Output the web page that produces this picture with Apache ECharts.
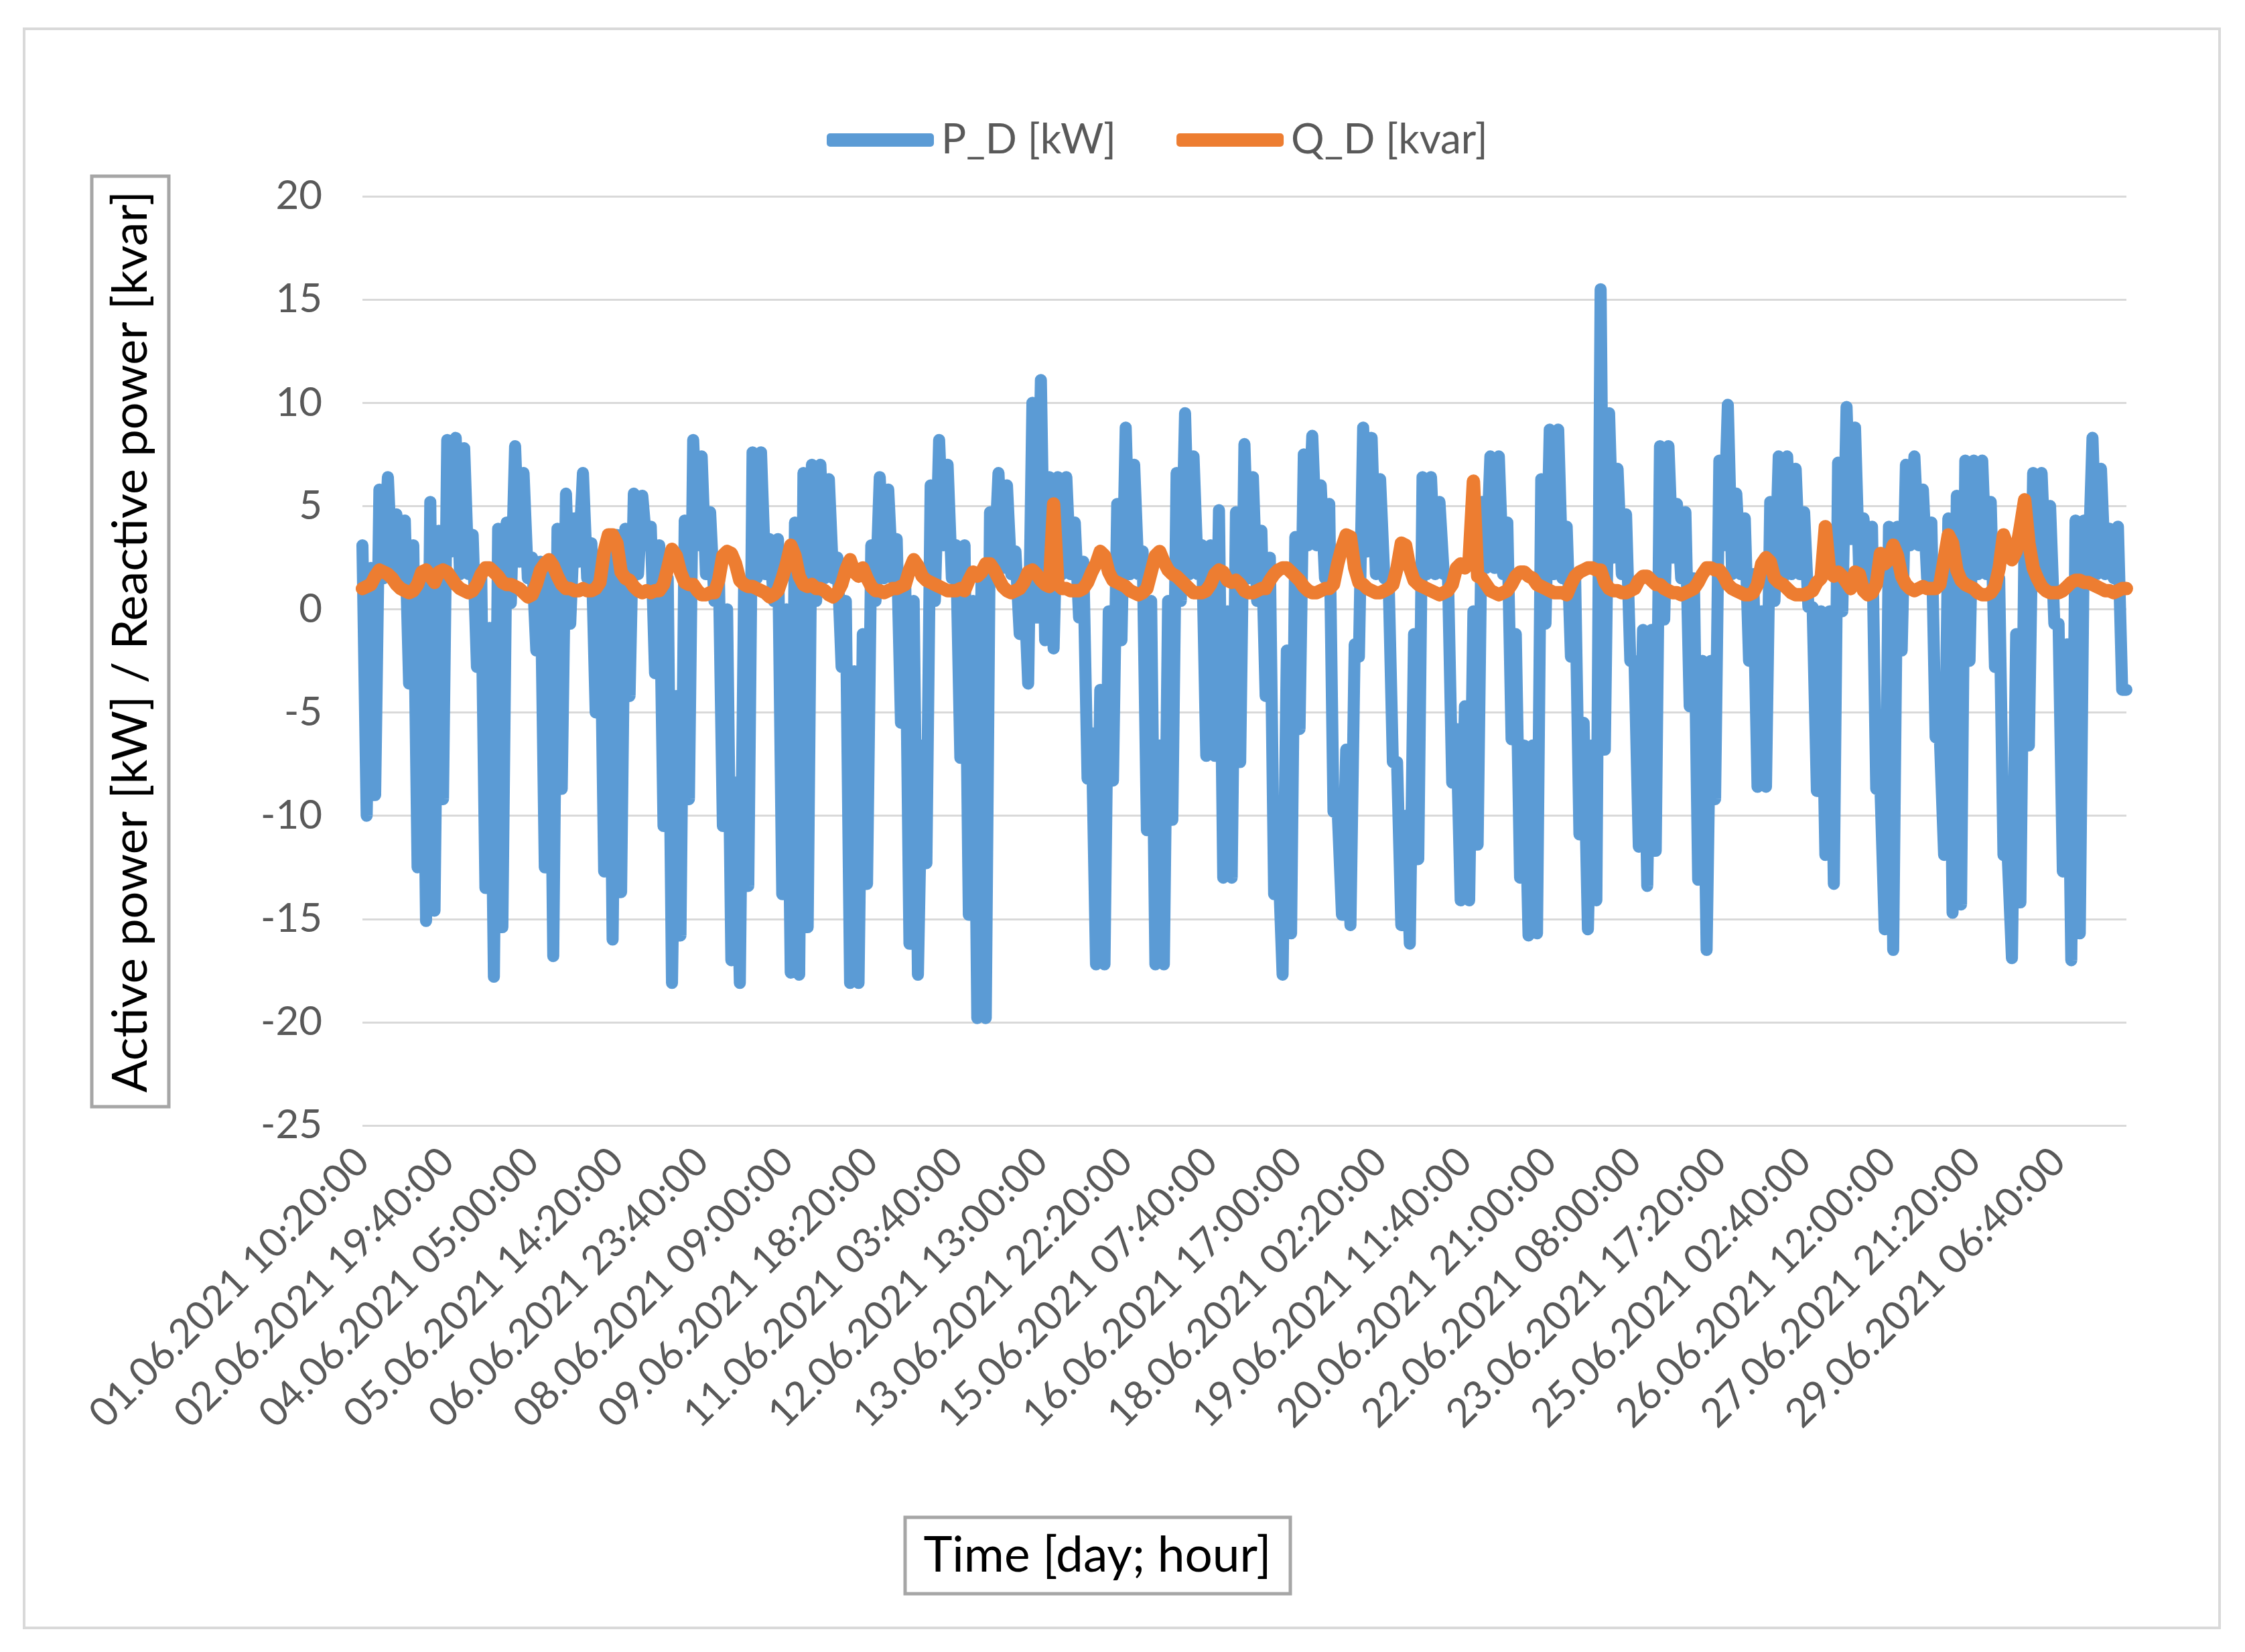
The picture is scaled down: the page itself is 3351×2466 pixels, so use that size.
<!DOCTYPE html>
<html lang="en">
<head>
    <meta charset="UTF-8">
    <title>P_D / Q_D</title>
    <script src="https://cdnjs.cloudflare.com/ajax/libs/echarts/6.0.0/echarts.min.js"></script>
    <style>
        html, body { margin: 0; padding: 0; background: #fff; }
        #chart { width: 3351px; height: 2466px; }
    </style>
</head>
<body>
    <div id="chart"></div>

    <script>
        const startTime = Date.UTC(2021, 5, 1, 10, 20);
        const stepMinutes = 100;
        // records missing between 20.06 21:00 and 22.06 08:00 (labels jump 2100 min there)
        const gapAtIndex = 292;
        const gapMinutes = 100;
        const seriesNames = ['P_D [kW]', 'Q_D [kvar]'];
        const yTicks = { min: -25, max: 20, step: 5 };

        // active power P_D [kW]
        const pValues = [
            3.1, -10, 2, -9, 5.8, 1.5, 6.4, 1.7, 4.6, 1.5,
            4.3, -3.6, 3.1, -12.5, 1.5, -15.1, 5.2, -14.6, 3.8, -9.2,
            8.2, 2.8, 8.3, 1.7, 7.8, 1.7, 3.6, -2.8, 1.9, -13.5,
            -0.9, -17.8, 3.9, -15.4, 4.2, 0.3, 7.9, 2.3, 6.6, 1.5,
            2.5, -2, 2.3, -12.5, 2.3, -16.8, 3.9, -8.7, 5.6, -0.7,
            4.4, 2.3, 6.6, 1.5, 3.2, -5, 2, -12.7, 3.6, -16,
            3.6, -13.7, 3.9, -4.2, 5.6, 1.7, 5.5, 3.1, 4, -3.1,
            3.1, -10.5, 1.5, -18.1, -4.2, -15.8, 4.3, -9.2, 8.2, 3.1,
            7.4, 1.7, 4.7, 0.4, 2.5, -10.5, 0, -17, -8.4, -18.1,
            1, -13.4, 7.6, 1.5, 7.6, 1.7, 3.4, 0.4, 3.4, -13.8,
            0, -17.6, 4.2, -17.7, 6.6, -15.4, 7, 0.4, 7, 1.5,
            6.3, 1.5, 2.5, -2.8, 0.4, -18.1, -3, -18.1, -1.2, -13.3,
            3.1, 0.4, 6.4, 1.5, 5.8, 1.5, 3.4, -5.5, 1.5, -16.2,
            0.4, -17.7, -6.6, -12.3, 6, 0.4, 8.2, 3.1, 7, 1.5,
            3.1, -7.2, 3.1, -14.8, 0.4, -19.8, 1.5, -19.8, 4.7, 2,
            6.6, 2, 6, 1.7, 2.8, -1.2, 1.5, -3.6, 10, -0.4,
            11.1, -1.5, 6.4, -1.9, 6.4, 1.7, 6.4, 1.7, 4.2, -0.4,
            2.3, -8.2, -6, -17.2, -3.9, -17.2, -0.1, -8.3, 5.1, -1.5,
            8.8, 1.7, 7, 1.7, 2.8, -10.7, 0.4, -17.2, -6.6, -17.2,
            0.4, -10.2, 6.6, 0.4, 9.5, 1.7, 7.4, 1.7, 3.1, -7.1,
            3.1, -7.1, 4.8, -13, -0.1, -13, 4.7, -7.4, 8, 1.5,
            6.4, 0.4, 3.8, -4.2, 2.5, -13.8, -12, -17.7, -2, -15.7,
            3.5, -5.8, 7.5, 3.1, 8.4, 3.1, 6, 1.5, 5.1, -9.8,
            -9.8, -14.8, -6.8, -15.3, -1.7, -2.3, 8.8, 2.8, 8.3, 1.7,
            6.3, 1.5, 1.5, -7.4, -7.4, -15.3, -10, -16.2, -1.2, -12.1,
            6.4, 1.7, 6.4, 1.7, 5.2, 1.7, 1.7, -8.4, -5.8, -14.1,
            -4.7, -14.1, -0.1, -11.4, 5.2, 2, 7.4, 2, 7.4, 1.7,
            4.2, -6.3, -1.2, -13, -6.6, -15.8, -6.6, -15.7, 6.3, -0.7,
            8.7, 1.7, 8.7, 1.5, 4, -2.3, 1.5, -10.9, -5.5, -15.5,
            -6.6, -14.1, 15.5, -6.8, 9.5, 2.5, 6.8, 1.7, 4.6, -2.5,
            -2.5, -11.5, -1, -13.4, -1, -11.7, 7.9, -0.5, 7.9, 2.5,
            5.1, 1.5, 4.7, -4.7, 1.5, -13.1, -2.5, -16.5, -2.5, -9.2,
            7.2, 3.1, 9.9, 1.7, 5.6, 1.7, 4.4, -2.5, 1.7, -8.6,
            -0.1, -8.6, 5.2, 0.4, 7.4, 1.5, 7.4, 1.7, 6.8, 1.7,
            4.7, 0.1, 0.1, -8.8, -0.1, -11.9, -0.1, -13.3, 7.1, -0.1,
            9.8, 3.4, 8.8, 1.7, 4.4, 1.5, 4, -8.7, -8.7, -15.5,
            4, -16.5, 4, -2, 7, 3.1, 7.4, 3.1, 5.8, 1.5,
            4.2, -6.2, -6.2, -11.9, 4.4, -14.7, 5.5, -14.3, 7.2, -2.5,
            7.2, 1.7, 7.2, 1.7, 5.2, -2.8, 1.5, -11.9, -11.9, -16.9,
            -1.2, -14.2, 4.2, -6.6, 6.6, 1.5, 6.6, 1.5, 5, -0.7,
            -0.7, -12.7, -1.7, -17, 4.3, -15.7, 4.3, 1.7, 8.3, 1.7,
            6.8, 1.7, 3.9, 1.5, 4, -3.9, -3.9
        ];

        // reactive power Q_D [kvar]
        const qValues = [
            1.0, 1.1, 1.2, 1.6, 1.9, 1.8, 1.7, 1.5, 1.2, 1.0,
            0.9, 0.8, 0.9, 1.2, 1.8, 1.9, 1.6, 1.3, 1.8, 1.9,
            1.8, 1.5, 1.2, 1.0, 0.9, 0.8, 0.9, 1.2, 1.7, 2.0,
            2.0, 1.8, 1.6, 1.3, 1.2, 1.2, 1.1, 1.0, 0.8, 0.6,
            0.7, 1.2, 1.9, 2.2, 2.4, 2.1, 1.6, 1.2, 1.0, 1.0,
            0.9, 0.9, 1.0, 0.9, 0.9, 1.0, 1.3, 2.8, 3.6, 3.6,
            3.2, 1.8, 1.5, 1.4, 1.1, 0.9, 0.8, 0.9, 0.8, 0.9,
            0.9, 1.2, 2.0, 2.9, 2.6, 1.8, 1.3, 1.2, 1.2, 0.9,
            0.7, 0.7, 0.8, 0.8, 1.4, 2.6, 2.8, 2.7, 2.2, 1.4,
            1.2, 1.1, 1.1, 1.0, 0.9, 0.8, 0.6, 0.7, 0.9, 1.5,
            2.2, 3.1, 2.6, 1.6, 1.2, 1.1, 1.2, 1.0, 1.0, 0.9,
            0.7, 0.6, 0.8, 1.2, 1.9, 2.4, 1.8, 1.6, 2.0, 1.5,
            1.1, 0.9, 0.9, 0.8, 0.9, 1.0, 1.0, 1.1, 1.2, 1.9,
            2.4, 2.1, 1.6, 1.4, 1.3, 1.2, 1.1, 1.0, 0.9, 0.9,
            0.9, 1.0, 0.9, 1.4, 1.8, 1.6, 1.8, 2.2, 2.2, 1.9,
            1.5, 1.1, 0.9, 0.8, 0.9, 1.0, 1.3, 1.8, 1.9, 1.7,
            1.4, 1.2, 1.1, 5.1, 1.2, 1.0, 1.0, 0.9, 0.9, 0.9,
            1.0, 1.3, 1.8, 2.2, 2.8, 2.6, 1.8, 1.4, 1.3, 1.2,
            1.1, 0.9, 0.8, 0.7, 0.8, 1.0, 1.8, 2.6, 2.8, 2.3,
            1.9, 1.7, 1.6, 1.4, 1.2, 1.0, 0.8, 0.8, 0.8, 0.9,
            1.2, 1.7, 1.9, 1.8, 1.4, 1.3, 1.4, 1.2, 0.9, 0.8,
            0.8, 0.9, 1.0, 1.0, 1.4, 1.7, 1.9, 2.0, 2.0, 1.8,
            1.6, 1.4, 1.1, 0.9, 0.8, 0.8, 0.9, 1.0, 1.0, 1.2,
            2.2, 3.0, 3.6, 3.5, 2.0, 1.3, 1.2, 1.0, 0.9, 0.8,
            0.8, 0.9, 1.0, 1.2, 2.0, 3.2, 3.1, 2.0, 1.4, 1.2,
            1.1, 1.0, 0.9, 0.8, 0.7, 0.8, 0.9, 1.2, 2.0, 2.2,
            2.0, 2.4, 6.2, 1.6, 1.5, 1.2, 0.9, 0.8, 0.7, 0.8,
            0.9, 1.2, 1.6, 1.8, 1.8, 1.6, 1.5, 1.2, 1.1, 1.0,
            0.9, 0.8, 0.8, 0.8, 0.7, 1.2, 1.6, 1.8, 1.9, 2.0,
            2.0, 1.9, 1.9, 1.3, 1.0, 0.9, 0.9, 0.8, 0.8, 0.9,
            1.0, 1.4, 1.6, 1.6, 1.4, 1.2, 1.2, 1.0, 0.9, 0.8,
            0.8, 0.7, 0.8, 0.9, 1.0, 1.3, 1.7, 2.0, 2.0, 1.9,
            1.9, 1.6, 1.2, 1.0, 0.9, 0.8, 0.7, 0.7, 0.8, 1.2,
            2.2, 2.5, 2.3, 1.5, 1.3, 1.2, 1.0, 0.8, 0.7, 0.7,
            0.7, 0.8, 0.9, 1.3, 1.5, 4.0, 1.8, 1.6, 1.8, 1.6,
            1.3, 1.0, 1.8, 1.7, 0.9, 0.7, 0.8, 1.2, 2.7, 2.2,
            2.4, 3.1, 2.6, 1.6, 1.2, 1.0, 0.9, 1.0, 1.1, 1.0,
            1.0, 1.0, 1.2, 2.4, 3.6, 3.2, 1.9, 1.4, 1.2, 1.1,
            1.0, 0.8, 0.7, 0.7, 0.8, 1.1, 2.0, 3.6, 3.0, 2.4,
            2.8, 4.0, 5.3, 3.2, 2.0, 1.5, 1.1, 0.9, 0.8, 0.8,
            0.8, 0.9, 1.1, 1.3, 1.4, 1.4, 1.3, 1.3, 1.2, 1.1,
            1.0, 0.9, 0.9, 0.8, 0.9, 1.0, 1.0
        ];

        function pad(n){
            return (n < 10 ? '0' : '') + n;
        }

        function format_time(ms){
            const d = new Date(ms);
            return pad(d.getUTCDate()) + '.' + pad(d.getUTCMonth() + 1) + '.' + d.getUTCFullYear() + ' ' +
                pad(d.getUTCHours()) + ':' + pad(d.getUTCMinutes()) + ':00';
        }

        const categories = [];
        for(let i = 0; i < pValues.length; i++){
            const minutes = i * stepMinutes + (i >= gapAtIndex ? gapMinutes : 0);
            categories.push(format_time(startTime + minutes * 60000));
        }

        const FONT = 'Lato, "Open Sans", sans-serif';
        const GREY = '#595959';

        const chart = echarts.init(document.getElementById('chart'));
        const option = {
            animation: false,
            backgroundColor: '#ffffff',
            textStyle: { fontFamily: FONT },
            legend: {
                data: seriesNames,
                left: 1229,
                top: 173,
                icon: 'roundRect',
                itemWidth: 160,
                itemHeight: 20,
                itemGap: 90,
                textStyle: { color: GREY, fontSize: 62, fontFamily: FONT, padding: [0, 0, 0, 6] }
            },
            grid: { left: 541, right: 177, top: 293, bottom: 786, containLabel: false },
            xAxis: {
                type: 'category',
                data: categories,
                boundaryGap: false,
                axisLine: { show: false },
                axisTick: { show: false },
                axisLabel: {
                    interval: 19,
                    rotate: 45,
                    margin: 44,
                    color: GREY,
                    fontSize: 60,
                    fontFamily: FONT
                }
            },
            yAxis: {
                type: 'value',
                min: yTicks.min,
                max: yTicks.max,
                interval: yTicks.step,
                axisLine: { show: false },
                axisTick: { show: false },
                axisLabel: { color: GREY, fontSize: 60, fontFamily: FONT, margin: 60 },
                splitLine: { lineStyle: { color: '#d9d9d9', width: 3 } }
            },
            series: [
                {
                    name: seriesNames[0],
                    type: 'line',
                    data: pValues,
                    symbol: 'none',
                    color: '#5b9bd5',
                    lineStyle: { width: 18, color: '#5b9bd5', cap: 'round', join: 'round' }
                },
                {
                    name: seriesNames[1],
                    type: 'line',
                    data: qValues,
                    symbol: 'none',
                    color: '#ed7d31',
                    lineStyle: { width: 20, color: '#ed7d31', cap: 'round', join: 'round' }
                }
            ],
            graphic: [
                {
                    type: 'rect', z: -10, silent: true,
                    shape: { x: 36, y: 43, width: 3277, height: 2387 },
                    style: { fill: 'none', stroke: '#d9d9d9', lineWidth: 4 }
                },
                {
                    type: 'rect', silent: true,
                    shape: { x: 137, y: 263, width: 115, height: 1389 },
                    style: { fill: '#ffffff', stroke: '#a6a6a6', lineWidth: 5 }
                },
                {
                    type: 'text', silent: true,
                    x: 196, y: 958, rotation: Math.PI / 2,
                    style: {
                        text: 'Active power [kW] / Reactive power [kvar]',
                        font: '72px ' + FONT,
                        fill: '#000000',
                        align: 'center',
                        verticalAlign: 'middle'
                    }
                },
                {
                    type: 'rect', silent: true,
                    shape: { x: 1351, y: 2265, width: 575, height: 114 },
                    style: { fill: '#ffffff', stroke: '#a6a6a6', lineWidth: 5 }
                },
                {
                    type: 'text', silent: true,
                    x: 1638, y: 2322,
                    style: {
                        text: 'Time [day; hour]',
                        font: '73px ' + FONT,
                        fill: '#000000',
                        align: 'center',
                        verticalAlign: 'middle'
                    }
                }
            ]
        };
        chart.setOption(option);
    </script>
</body>
</html>
